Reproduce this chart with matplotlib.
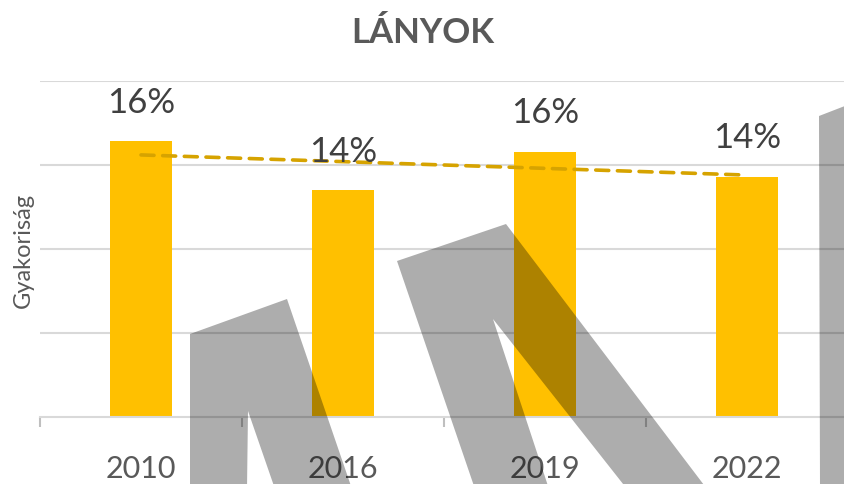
import numpy as np
import matplotlib
matplotlib.use("Agg")
import matplotlib.pyplot as plt
from matplotlib.patches import Polygon
from matplotlib.transforms import Affine2D

plt.rcParams["font.family"] = ["Lato", "DejaVu Sans"]

# data
years = ["2010", "2016", "2019", "2022"]
values = [0.164, 0.135, 0.158, 0.143]
labels = ["16%", "14%", "16%", "14%"]
title = "LÁNYOK"
y_label = "Gyakoriság"

# decorative grey overlay shapes, in pixels from the top-left corner
overlay_shapes = [
    [(190, 490), (190, 335), (287, 300), (352, 490), (275, 490), (248, 412), (247, 490)],
    [(475, 490), (397, 262), (506, 225), (707, 490), (627, 490), (493, 320), (549, 490)],
    [(820, 490), (819, 117), (850, 105), (850, 490)],
]

W, H = 845, 485
fig = plt.figure(figsize=(W / 100, H / 100), dpi=100)
ax = fig.add_axes([40 / W, (H - 418) / H, 808 / W, 336 / H])

x = np.arange(len(years))
ax.bar(x, values, width=0.31, color="#FFC000", zorder=2)

# linear trend line over category index
k, b = np.polyfit(x, values, 1)
ax.plot(x, k * x + b, color="#D6A300", lw=2.6, ls=(0, (3.6, 2.4)),
        dash_capstyle="round", zorder=3)

for xi, v, t in zip(x, values, labels):
    ax.annotate(t, (xi, v), xytext=(0, 17), textcoords="offset points",
                ha="center", va="bottom", fontsize=25, color="#404040",
                annotation_clip=False)

ax.set_xlim(-0.5, 3.5)
ax.set_ylim(0, 0.2)
ax.set_yticks([0.05, 0.1, 0.15, 0.2])
ax.yaxis.grid(True, color="#D9D9D9", lw=1.5)
ax.set_axisbelow(True)
ax.tick_params(axis="y", length=0, labelleft=False)

ax.set_xticks(x)
ax.set_xticklabels(years)
ax.tick_params(axis="x", length=0, pad=27, labelsize=22, labelcolor="#595959")
ax.set_xticks([-0.5, 0.5, 1.5, 2.5], minor=True)
ax.tick_params(axis="x", which="minor", length=7.5, width=1.5, color="#BFBFBF")

for s in ["top", "right", "left"]:
    ax.spines[s].set_visible(False)
ax.spines["bottom"].set_color("#D9D9D9")
ax.spines["bottom"].set_linewidth(1.5)

ax.set_ylabel(y_label, fontsize=17, color="#595959")
ax.yaxis.set_label_coords(-6 / 808, 0.5)

fig.text(0.5, 1 - 33 / H, title, ha="center", va="center", fontsize=25,
         fontweight="bold", color="#595959")

# pixel transform with origin at top-left
px = Affine2D().scale(1, -1).translate(0, H)
for pts in overlay_shapes:
    fig.add_artist(Polygon(pts, closed=True, transform=px, facecolor="black",
                           alpha=0.32, edgecolor="none", zorder=5))

fig.savefig("out.png", dpi=100)
